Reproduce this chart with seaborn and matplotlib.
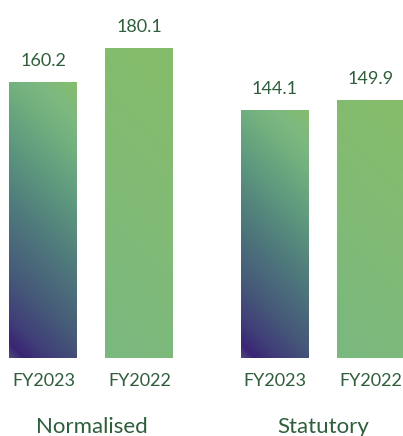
import numpy as np
import pandas as pd
import matplotlib
matplotlib.use("Agg")
import matplotlib.pyplot as plt
from matplotlib.colors import LinearSegmentedColormap
import seaborn as sns

# ---- data ----
groups = ["Normalised", "Normalised", "Statutory", "Statutory"]
years = ["FY2023", "FY2022", "FY2023", "FY2022"]
values = [160.2, 180.1, 144.1, 149.9]
year_order = ["FY2023", "FY2022"]
group_order = ["Normalised", "Statutory"]

df = pd.DataFrame({"group": groups, "year": years, "value": values})

sns.set_style("white")
plt.rcParams["font.family"] = ["Lato", "DejaVu Sans"]

TEXT = "#2f5e3a"
W, H = 403, 436
fig = plt.figure(figsize=(W / 100, H / 100), dpi=100)
base_px = 78
ax = fig.add_axes([0, base_px / H, 1, 1 - base_px / H])

sns.barplot(data=df, x="group", y="value", hue="year", order=group_order,
            hue_order=year_order, palette=["#4f7a7c", "#80ba76"],
            width=0.829, gap=0.292, legend=False, ax=ax, errorbar=None)

ax.set_xlim(-0.395, 1.3456)
ax.set_ylim(0, 207.8)
ax.axis("off")

cmap23 = LinearSegmentedColormap.from_list("g23", [
    (0.00, "#4a4a7c"), (0.04, "#3a2574"), (0.12, "#403f78"),
    (0.25, "#465a79"), (0.45, "#4f7a7c"), (0.65, "#5f9b7e"),
    (0.80, "#72b07f"), (0.90, "#7db980"), (1.00, "#85bc6c")])
cmap22 = LinearSegmentedColormap.from_list("g22", ["#7bb880", "#86bd6a"])

px_per_x = W / (1.3456 + 0.395)
px_per_y = (H - base_px) / 207.8

for container, cmap in zip(ax.containers, [cmap23, cmap22]):
    for patch in container:
        x0, y0 = patch.get_x(), patch.get_y()
        w, h = patch.get_width(), patch.get_height()
        wp, hp = w * px_per_x, h * px_per_y
        nx, ny = max(int(wp), 2), max(int(hp), 2)
        xs = np.linspace(0, wp, nx)
        ys = np.linspace(0, hp, ny)
        X, Y = np.meshgrid(xs, ys)
        T = (X + Y) / (wp + hp)
        im = ax.imshow(T, cmap=cmap, vmin=0, vmax=1, origin="lower",
                       extent=[x0, x0 + w, y0, y0 + h], aspect="auto",
                       interpolation="bilinear", zorder=2)
        im.set_clip_path(patch)
        patch.set_facecolor("none")
        patch.set_edgecolor("none")
        cx = x0 + w / 2
        ax.annotate(f"{h:.1f}", xy=(cx, h), xytext=(0, 21 * 0.72),
                    textcoords="offset points", ha="center", va="center",
                    fontsize=13, color=TEXT, annotation_clip=False)

for container, yr in zip(ax.containers, year_order):
    for patch in container:
        cx = patch.get_x() + patch.get_width() / 2
        ax.annotate(yr, xy=(cx, 0), xytext=(0, -23 * 0.72),
                    textcoords="offset points", ha="center", va="center",
                    fontsize=13, color=TEXT, annotation_clip=False)

for i, g in enumerate(group_order):
    ax.annotate(g, xy=(i, 0), xytext=(0, -69 * 0.72),
                textcoords="offset points", ha="center", va="center",
                fontsize=16, color=TEXT, annotation_clip=False)

ax.set_ylim(0, 207.8)
ax.set_xlim(-0.395, 1.3456)
fig.savefig("out.png", dpi=100)
